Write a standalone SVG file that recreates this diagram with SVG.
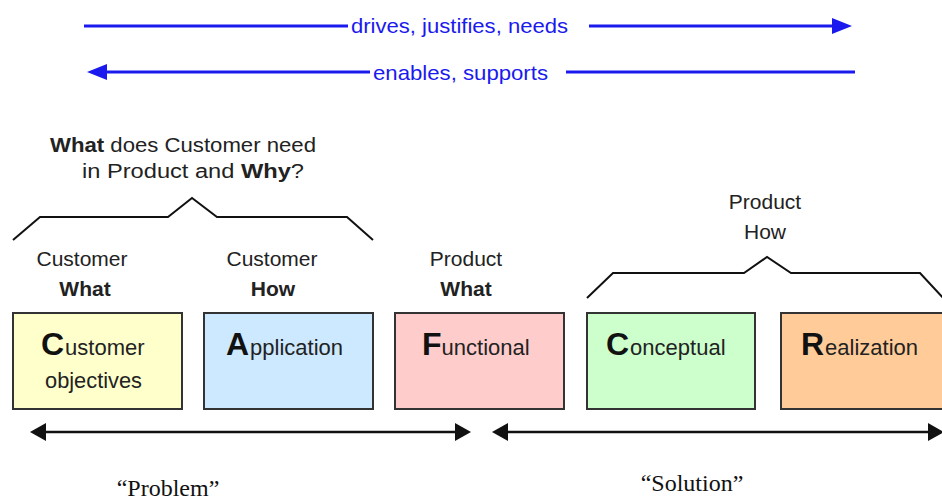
<svg xmlns="http://www.w3.org/2000/svg" width="942" height="502" viewBox="0 0 942 502">
<style>
.sans{font-family:"Liberation Sans",Arial,sans-serif;fill:#222}
.blue{font-family:"Liberation Sans",Arial,sans-serif;fill:#1a1aee;font-size:21px}
.lbl{font-size:21px;text-anchor:middle}
.b{font-weight:bold}
.box{stroke:#333;stroke-width:2}
.big{font-size:32px;font-weight:bold;fill:#111}
.sm{font-size:22px}
.br{fill:none;stroke:#111;stroke-width:2}
.bl{stroke:#1a1aee;stroke-width:3;fill:none}
.bk{stroke:#111;stroke-width:2.5;fill:none}
.serif{font-family:"Liberation Serif","Times New Roman",serif;font-size:24px;fill:#111;text-anchor:middle}
</style>
<rect width="942" height="502" fill="#fff"/>
<g id="connectors">
  <line class="bl" x1="84" y1="26" x2="348" y2="26"/>
  <line class="bl" x1="589" y1="26" x2="836" y2="26"/>
  <polygon points="852,26 832,18 832,34" fill="#1a1aee"/>
  <line class="bl" x1="100" y1="72" x2="370" y2="72"/>
  <line class="bl" x1="566" y1="72" x2="855" y2="72"/>
  <polygon points="87,72 107,64 107,80" fill="#1a1aee"/>
  <line class="bk" x1="40" y1="432" x2="460" y2="432"/>
  <polygon points="30,432 46,423 46,441" fill="#111"/>
  <polygon points="471,432 455,423 455,441" fill="#111"/>
  <line class="bk" x1="502" y1="432" x2="935" y2="432"/>
  <polygon points="492,432 508,423 508,441" fill="#111"/>
  <polygon points="944,432 928,423 928,441" fill="#111"/>
</g>
<g id="labels-top">
  <text class="blue" x="351" y="33" textLength="217" lengthAdjust="spacingAndGlyphs">drives, justifies, needs</text>
  <text class="blue" x="373" y="80" textLength="175" lengthAdjust="spacingAndGlyphs">enables, supports</text>
</g>
<g id="brace-problem">
  <polyline class="br" points="13,240 40,217 168,217 192,198 217,217 347,217 373,240"/>
  <text class="sans" x="50" y="152" font-size="20" textLength="266" lengthAdjust="spacingAndGlyphs"><tspan class="b">What</tspan> does Customer need</text>
  <text class="sans" x="82" y="178" font-size="20" textLength="222" lengthAdjust="spacingAndGlyphs">in Product and  <tspan class="b">Why</tspan>?</text>
</g>
<g id="brace-solution">
  <polyline class="br" points="587,298 613,273 744,273 767,257 791,273 920,273 945,300"/>
  <text class="sans lbl" x="765" y="209">Product</text>
  <text class="sans lbl" x="765" y="239">How</text>
</g>
<g id="lbl-cw">
  <text class="sans lbl" x="82" y="266">Customer</text>
  <text class="sans lbl b" x="85" y="296">What</text>
</g>
<g id="lbl-ch">
  <text class="sans lbl" x="272" y="266">Customer</text>
  <text class="sans lbl b" x="273" y="296">How</text>
</g>
<g id="lbl-pw">
  <text class="sans lbl" x="466" y="266">Product</text>
  <text class="sans lbl b" x="466" y="296">What</text>
</g>
<g id="node-customer">
  <rect class="box" x="13" y="313" width="169" height="96" fill="#ffffcc"/>
  <text class="sans" x="41" y="355"><tspan class="big">C</tspan><tspan class="sm" dx="1">ustomer</tspan></text>
  <text class="sans sm" x="45" y="388" textLength="97" lengthAdjust="spacingAndGlyphs">objectives</text>
</g>
<g id="node-application">
  <rect class="box" x="204" y="313" width="169" height="96" fill="#cce9ff"/>
  <text class="sans" x="226" y="355"><tspan class="big">A</tspan><tspan class="sm" dx="1">pplication</tspan></text>
</g>
<g id="node-functional">
  <rect class="box" x="395" y="313" width="169" height="96" fill="#ffcccc"/>
  <text class="sans" x="422" y="355"><tspan class="big">F</tspan><tspan class="sm">unctional</tspan></text>
</g>
<g id="node-conceptual">
  <rect class="box" x="587" y="313" width="168" height="96" fill="#ccffcc"/>
  <text class="sans" x="606" y="355"><tspan class="big">C</tspan><tspan class="sm" dx="1">onceptual</tspan></text>
</g>
<g id="node-realization">
  <rect class="box" x="781" y="313" width="170" height="96" fill="#ffcc99"/>
  <text class="sans" x="801" y="355"><tspan class="big">R</tspan><tspan class="sm" dx="1">ealization</tspan></text>
</g>
<g id="bottom-labels">
  <text class="serif" x="168" y="496">“Problem”</text>
  <text class="serif" x="692" y="491">“Solution”</text>
</g>
</svg>
